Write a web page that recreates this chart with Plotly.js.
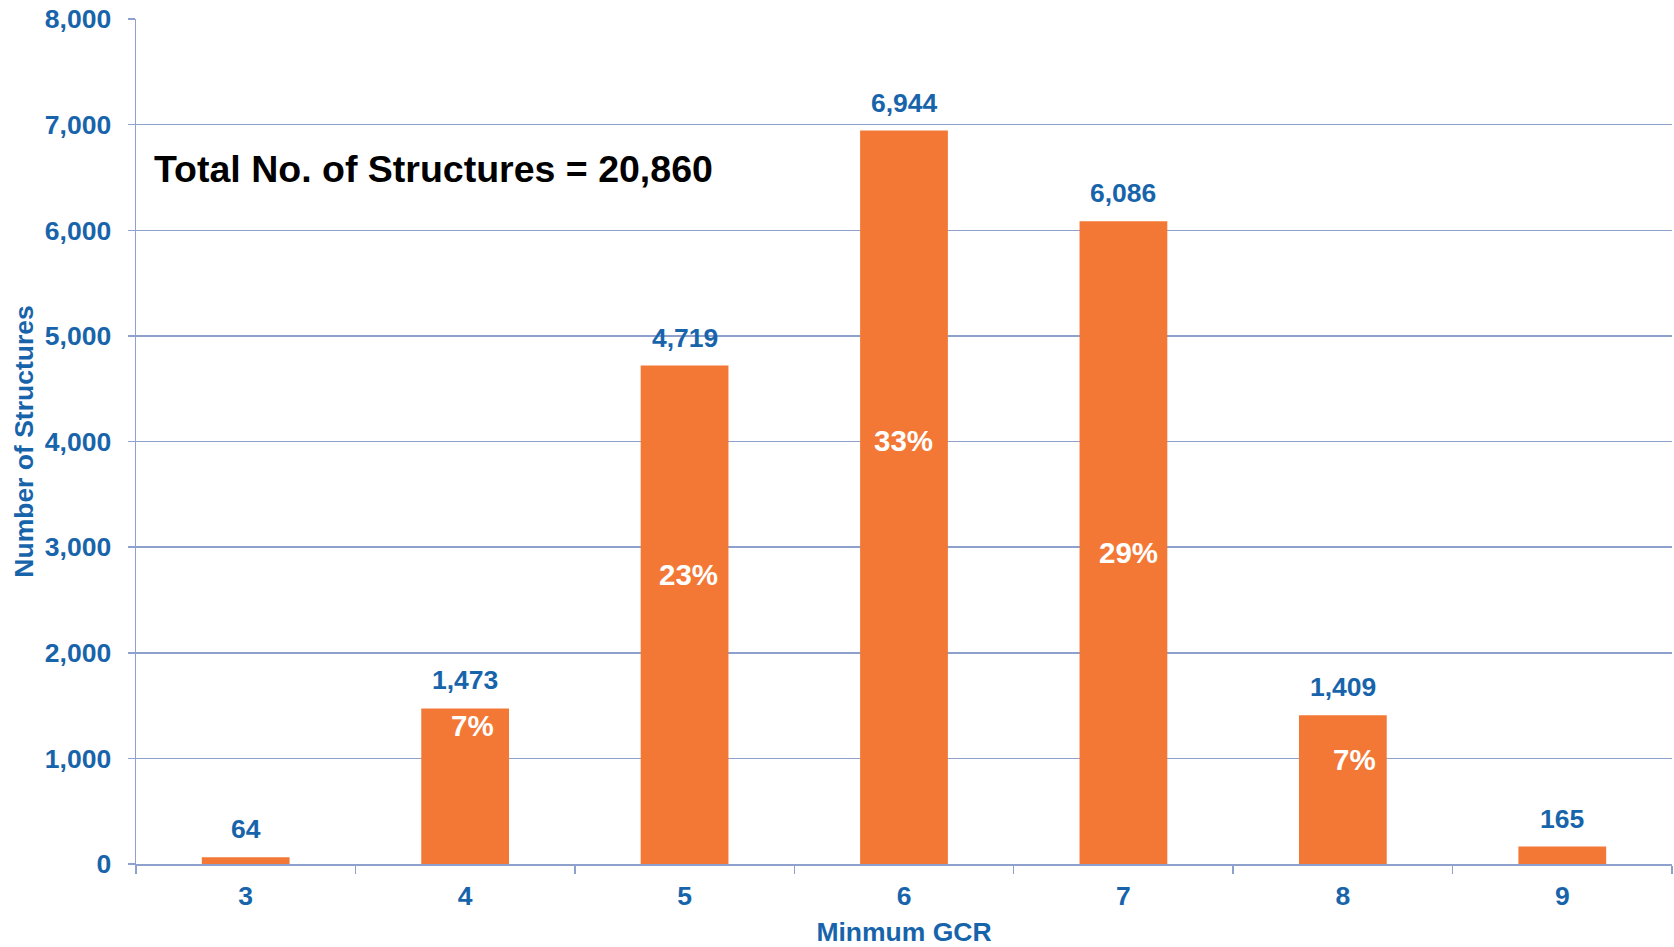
<!DOCTYPE html>
<html>
<head>
<meta charset="utf-8">
<script src="https://cdn.plot.ly/plotly-3.0.1.min.js"></script>
<style>
html, body { margin: 0; padding: 0; background: #ffffff; }
#chart { width: 1674px; height: 947px; }
</style>
</head>
<body>
<div id="chart"></div>
<script>
// ---- data ----
const categories = ["3", "4", "5", "6", "7", "8", "9"];
const structures = [64, 1473, 4719, 6944, 6086, 1409, 165];
const valueLabels = ["64", "1,473", "4,719", "6,944", "6,086", "1,409", "165"];
const pctLabels = ["", "7%", "23%", "33%", "29%", "7%", ""];
const yTickVals = [0, 1000, 2000, 3000, 4000, 5000, 6000, 7000, 8000];
const yTickText = ["0", "1,000", "2,000", "3,000", "4,000", "5,000", "6,000", "7,000", "8,000"];
const totalText = "Total No. of Structures = 20,860";

// ---- style ----
const BLUE = "#1864ab";
const ORANGE = "#f37836";
const GRID = "#8ea0cc";
const FONT = "Liberation Sans, Arial, sans-serif";
// placement of percent labels inside bars (fraction of bar height) and x nudges
const pctFrac = [0, 0.89, 0.58, 0.577, 0.484, 0.705, 0];
const pctXShift = [0, 7, 4, -1, 5, 12, 0];

const annotations = [];
categories.forEach((c, i) => {
  annotations.push({
    x: i, y: structures[i], xref: "x", yref: "y",
    text: valueLabels[i], showarrow: false,
    xanchor: "center", yanchor: "bottom", yshift: 11,
    font: { family: FONT, size: 26.5, color: BLUE, weight: "bold" }
  });
  if (pctLabels[i]) {
    annotations.push({
      x: i, y: structures[i] * pctFrac[i], xref: "x", yref: "y",
      text: pctLabels[i], showarrow: false, xshift: pctXShift[i],
      xanchor: "center", yanchor: "middle",
      font: { family: FONT, size: 29.5, color: "#ffffff", weight: "bold" }
    });
  }
});
annotations.push({
  xref: "paper", yref: "paper", x: 0.0105, y: 0.823,
  xanchor: "left", yanchor: "middle", showarrow: false,
  text: totalText,
  font: { family: FONT, size: 37.5, color: "#000000", weight: "bold" }
});

const trace = {
  type: "bar",
  x: categories,
  y: structures,
  marker: { color: ORANGE },
  width: 0.4,
  hoverinfo: "x+y"
};

const layout = {
  width: 1674, height: 947,
  margin: { l: 136, r: 2, t: 19, b: 83 },
  paper_bgcolor: "#ffffff", plot_bgcolor: "#ffffff",
  showlegend: false,
  font: { family: FONT, color: BLUE },
  xaxis: {
    type: "category",
    range: [-0.5, 6.5],
    tickson: "boundaries",
    ticks: "outside", ticklen: 8, tickwidth: 1.5, tickcolor: GRID,
    showline: true, linecolor: GRID, linewidth: 1.5,
    showgrid: false, zeroline: false,
    tickfont: { family: FONT, size: 26.5, color: BLUE, weight: "bold" },
    ticklabelstandoff: 8,
    title: { text: "Minmum GCR", font: { family: FONT, size: 26.5, color: BLUE, weight: "bold" }, standoff: 20 }
  },
  yaxis: {
    range: [0, 8000],
    tickvals: yTickVals, ticktext: yTickText,
    ticks: "outside", ticklen: 7, tickwidth: 1.5, tickcolor: GRID,
    showline: true, linecolor: GRID, linewidth: 1.5,
    showgrid: true, gridcolor: GRID, gridwidth: 1.5,
    zeroline: false,
    tickfont: { family: FONT, size: 26.5, color: BLUE, weight: "bold" },
    ticklabelstandoff: 11,
    title: { text: "Number of Structures", font: { family: FONT, size: 26.5, color: BLUE, weight: "bold" }, standoff: 3 }
  },
  annotations: annotations
};

Plotly.newPlot("chart", [trace], layout, { displayModeBar: false, staticPlot: true });
</script>
</body>
</html>
